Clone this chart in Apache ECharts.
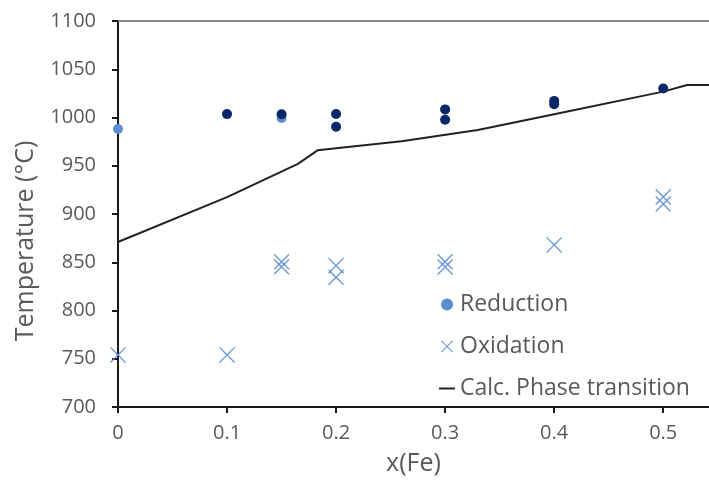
<!DOCTYPE html>
<html>
<head>
<meta charset="utf-8">
<script src="https://cdn.jsdelivr.net/npm/echarts@6/dist/echarts.min.js"></script>
<style>html,body{margin:0;padding:0;background:#fff;}#c{width:709px;height:484px;}</style>
</head>
<body>
<div id="c"></div>
<script>
// Data
var reductionLight = [[0, 988], [0.15, 999.5]];
var reductionDark = [[0.1, 1003.5], [0.15, 1003.3], [0.2, 1003.6], [0.2, 990.5], [0.3, 1008.4], [0.3, 997.6], [0.4, 1017.2], [0.4, 1013.8], [0.5, 1030]];
var oxidation = [[0, 754], [0.1, 754], [0.15, 850.6], [0.15, 845.3], [0.2, 846.5], [0.2, 834.5], [0.3, 850.6], [0.3, 845], [0.4, 868], [0.5, 917.6], [0.5, 910.4]];
var phaseLine = [[0, 871], [0.1, 917.5], [0.165, 952], [0.183, 966], [0.26, 975.5], [0.33, 987], [0.4, 1003.3], [0.5, 1026.8], [0.522, 1033.6], [0.56, 1033.6]];
var yTicks = {min: 700, max: 1100, step: 50};
var xTicks = {min: 0, max: 0.542, step: 0.1};

var xPath = 'path://M0,0.6L0.6,0L5,4.4L9.4,0L10,0.6L5.6,5L10,9.4L9.4,10L5,5.6L0.6,10L0,9.4L4.4,5Z';
var FONT = '"Open Sans", sans-serif';
var GRAY = '#595959';

var chart = echarts.init(document.getElementById('c'), null, {renderer: 'canvas'});
chart.setOption({
  animation: false,
  backgroundColor: '#ffffff',
  grid: {left: 118, right: 0, top: 21, bottom: 77},
  legend: {
    orient: 'vertical',
    left: 434, top: 288,
    itemWidth: 16, itemHeight: 12,
    itemGap: 19,
    textStyle: {fontFamily: FONT, fontSize: 23, color: GRAY, lineHeight: 23},
    data: [
      {name: 'Reduction', icon: 'circle', itemStyle: {color: '#5b8dd0'}},
      {name: 'Oxidation', icon: xPath, itemStyle: {color: '#5b8dd0'}},
      {name: 'Calc. Phase transition', icon: 'path://M0,5H16V7H0Z', itemStyle: {color: '#222'}}
    ]
  },
  xAxis: [{
    type: 'value', position: 'bottom',
    min: xTicks.min, max: xTicks.max, interval: xTicks.step,
    name: 'x(Fe)', nameLocation: 'middle', nameGap: 44,
    nameTextStyle: {fontFamily: FONT, fontSize: 25, color: GRAY},
    axisLine: {lineStyle: {color: '#1a1a1a', width: 2}},
    axisTick: {show: true, length: 6, lineStyle: {color: '#1a1a1a', width: 2}},
    axisLabel: {
      margin: 16, fontFamily: FONT, fontSize: 20, color: GRAY,
      showMaxLabel: false,
      formatter: function (v) {
        var k = v / xTicks.step;
        if (Math.abs(k - Math.round(k)) > 1e-6) return '';
        return String(+(Math.round(k) * xTicks.step).toFixed(1));
      }
    },
    splitLine: {show: false}
  }, {
    type: 'value', position: 'top',
    min: xTicks.min, max: xTicks.max,
    axisLine: {show: true, onZero: false, lineStyle: {color: '#8a8a8a', width: 2}},
    axisTick: {show: false}, axisLabel: {show: false}, splitLine: {show: false}
  }],
  yAxis: {
    type: 'value',
    min: yTicks.min, max: yTicks.max, interval: yTicks.step,
    name: 'Temperature (\u00B0C)', nameLocation: 'middle', nameGap: 80,
    nameTextStyle: {fontFamily: FONT, fontSize: 25, color: GRAY, padding: [0, 54, 0, 0]},
    axisLine: {show: true, lineStyle: {color: '#1a1a1a', width: 2}},
    axisTick: {show: true, length: 6, lineStyle: {color: '#1a1a1a', width: 2}},
    axisLabel: {margin: 22, fontFamily: FONT, fontSize: 20, color: GRAY,
      formatter: function (v) { return String(v); }},
    splitLine: {show: false}
  },
  series: [{
    name: 'Calc. Phase transition', type: 'line', data: phaseLine,
    showSymbol: false, symbol: 'none', clip: true,
    lineStyle: {color: '#222222', width: 2},
    z: 2
  }, {
    name: 'Reduction', type: 'scatter', data: reductionLight,
    symbol: 'circle', symbolSize: 10,
    itemStyle: {color: '#5b8dd0', opacity: 1},
    z: 3
  }, {
    name: 'Reduction dark', type: 'scatter', data: reductionDark,
    symbol: 'circle', symbolSize: 10,
    itemStyle: {color: '#0a2868', opacity: 1},
    z: 4
  }, {
    name: 'Oxidation', type: 'scatter', data: oxidation,
    symbol: xPath, symbolSize: 16,
    itemStyle: {color: '#5b8dd0', opacity: 0.9},
    z: 3
  }]
});
</script>
</body>
</html>
